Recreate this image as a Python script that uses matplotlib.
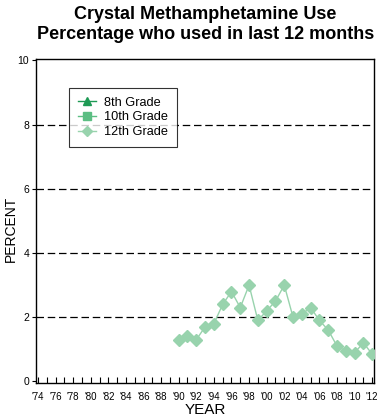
import matplotlib

matplotlib.use("Agg")
import matplotlib.pyplot as plt

plt.rcParams["font.family"] = ["Liberation Sans", "DejaVu Sans"]

years_12 = list(range(1990, 2013))
pct_12 = [1.3, 1.4, 1.3, 1.7, 1.8, 2.4, 2.8, 2.3, 3.0, 1.9, 2.2, 2.5,
          3.0, 2.0, 2.1, 2.3, 1.9, 1.6, 1.1, 0.95, 0.9, 1.2, 0.85]
years_8 = []
pct_8 = []
years_10 = []
pct_10 = []

tick_years = list(range(1974, 2013, 2))
tick_labels = ["'" + str(y)[2:] for y in tick_years]
y_ticks = [0, 2, 4, 6, 8, 10]

c8 = "#1e9a55"
c10 = "#5cbe83"
c12 = "#98d3ad"

fig = plt.figure(figsize=(3.77, 4.2), dpi=100)
ax = fig.add_axes([0.096, 0.088, 0.896, 0.772])

for y in [2, 4, 6, 8]:
    ax.axhline(y, color="black", linewidth=0.9, dashes=(6, 3), zorder=1)

ax.plot(years_8, pct_8, color=c8, marker="^", markersize=6, linewidth=1, label="8th Grade")
ax.plot(years_10, pct_10, color=c10, marker="s", markersize=6, linewidth=1, label="10th Grade")
ax.plot(years_12, pct_12, color=c12, marker="D", markersize=6, linewidth=1,
        label="12th Grade", zorder=3)

ax.set_xlim(1973.8, 2012.2)
ax.set_ylim(-0.05, 10.05)
ax.set_xticks(tick_years)
ax.set_xticklabels(tick_labels, fontsize=7)
ax.set_xticks(list(range(1974, 2013)), minor=True)
ax.tick_params(axis="x", which="both", direction="in", length=4, width=0.8, pad=6.5)
ax.set_yticks(y_ticks)
ax.set_yticklabels([str(v) for v in y_ticks], fontsize=7.5)
ax.tick_params(axis="y", direction="out", length=3, width=0.8, pad=2)
for s in ax.spines.values():
    s.set_linewidth(1.0)

ax.set_xlabel("YEAR", fontsize=11, labelpad=1)
fig.text(0.028, 0.455, "PERCENT", rotation=90, fontsize=10, ha="center", va="center")

leg = ax.legend(loc="upper left", bbox_to_anchor=(0.098, 0.91), fontsize=9.2,
                frameon=True, fancybox=False, edgecolor="black", borderpad=0.7,
                handlelength=1.4, labelspacing=0.2, handletextpad=0.65,
                markerscale=0.85, borderaxespad=0)
leg.get_frame().set_linewidth(0.8)

fig.suptitle("Crystal Methamphetamine Use\nPercentage who used in last 12 months",
             fontsize=13, fontweight="bold", y=0.985, x=0.545, linespacing=1.2)

fig.savefig("out.png", dpi=100)
